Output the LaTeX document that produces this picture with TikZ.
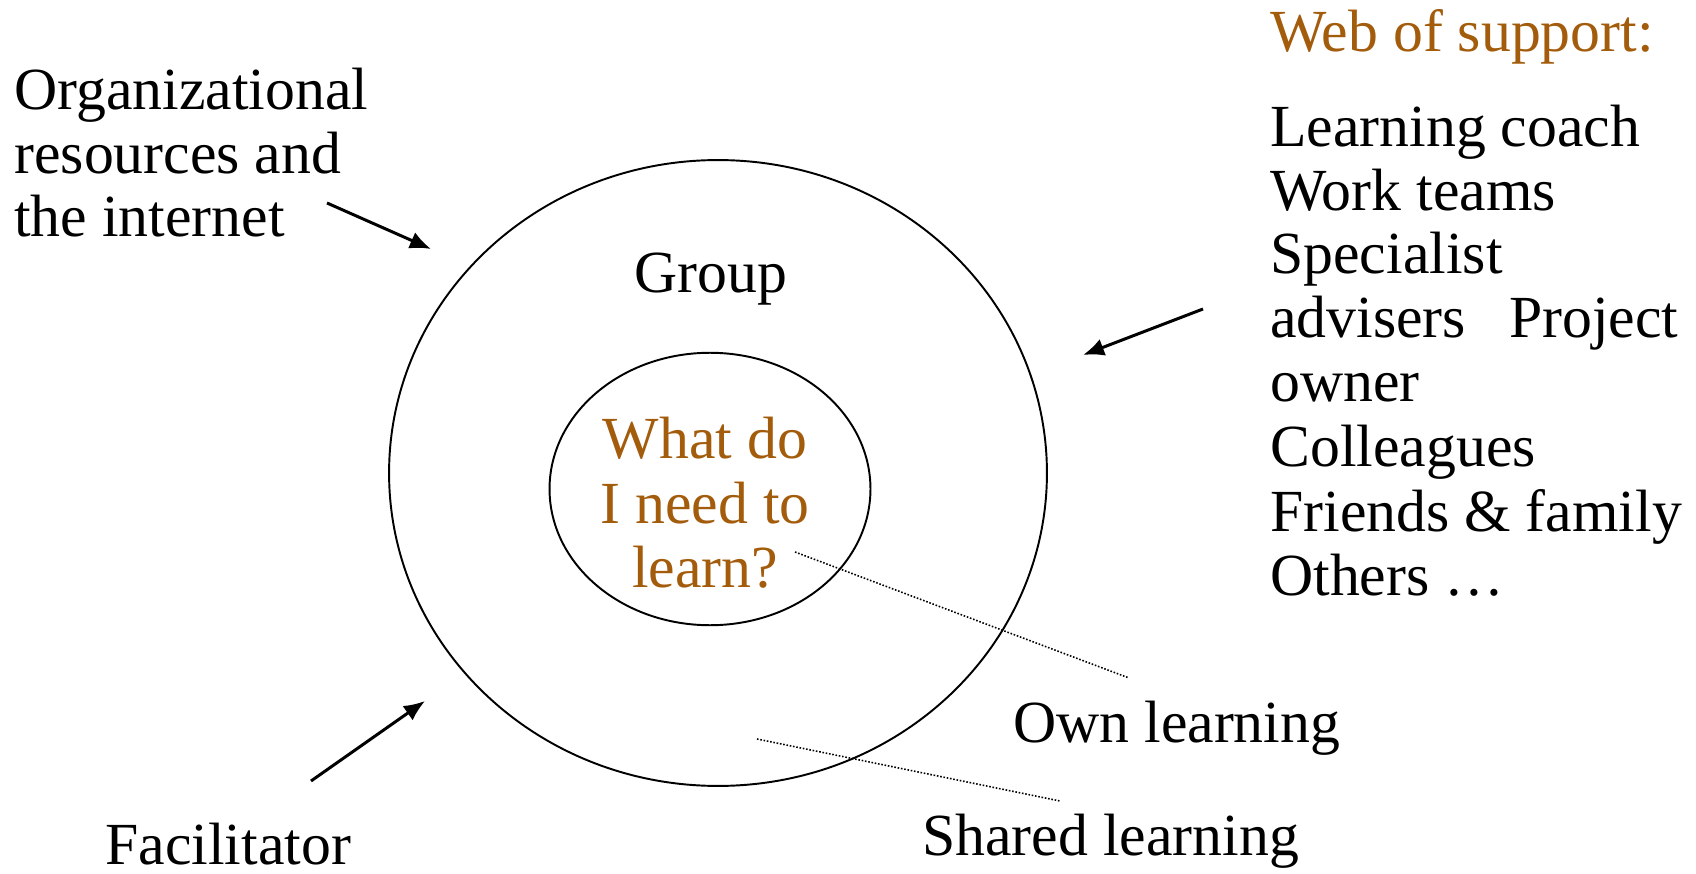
\documentclass[tikz,border=0pt]{standalone}
\usepackage{fontspec}
\setmainfont{Liberation Serif}
\usetikzlibrary{shapes.geometric}
\usetikzlibrary{arrows.meta}
\definecolor{webbrown}{RGB}{163,92,12}

\begin{document}
\begin{tikzpicture}[x=0.02cm, y=-0.02cm]
  \tikzstyle{ring}=[ellipse, draw = black, line width = 1.1pt, inner sep = 0pt]
  \tikzstyle{label}=[anchor = base west, inner sep = 0pt, font = \fontsize{34}{37}\selectfont]
  \tikzstyle{connect}=[-{Latex[length = 12pt, width = 10pt]}, line width = 1.7pt]
  \tikzstyle{pointer}=[densely dotted, line width = 0.9pt]

  \useasboundingbox (0, 0) rectangle (1696, 874);

  % the two circles
  \node[ring, minimum width = 13.16cm, minimum height = 12.52cm] (group) at (718, 473) {};
  \node[ring, minimum width = 6.42cm, minimum height = 5.45cm] (self) at (710, 489) {};

  \node[label, anchor = base] (grouplabel) at (711, 293) {Group};
  \foreach \y/\txt [count=\i] in {459/What do, 523/I need to, 587/learn?}
    \node[label, anchor = base, text = webbrown] (q\i) at (705, \y) {\txt};

  % left side
  \foreach \y/\txt [count=\i] in {110/Organizational, 174/resources and, 237/the internet}
    \node[label] (org\i) at (14, \y) {\txt};
  \node[label] (facilitator) at (105, 864) {Facilitator};

  % web of support
  \node[label, text = webbrown] (web) at (1270, 52) {Web of support:};
  \foreach \y/\txt [count=\i] in
    { 147/Learning coach
    , 211/Work teams
    , 274/Specialist
    , 338/\makebox[8.16cm][s]{advisers\hfill Project}
    , 402/owner
    , 466/Colleagues
    , 531/Friends \& family
    , 595/Others \dots
    }
    \node[label] (w\i) at (1270, \y) {\txt};

  % bottom labels
  \node[label] (own) at (1013, 742) {Own learning};
  \node[label] (shared) at (922, 855) {Shared learning};

  % arrows
  \coordinate (orgtail) at (327, 203);
  \coordinate (orgtip) at (431, 249);
  \coordinate (webtail) at (1203, 309);
  \coordinate (webtip) at (1083, 355);
  \coordinate (factail) at (311, 781);
  \coordinate (factip) at (425, 701);
  \draw[connect] (orgtail) -- (orgtip);
  \draw[connect] (webtail) -- (webtip);
  \draw[connect] (factail) -- (factip);

  % dotted pointers
  \coordinate (ownstart) at (795, 552);
  \coordinate (ownend) at (1129, 678);
  \coordinate (sharedstart) at (757, 739);
  \coordinate (sharedend) at (1060, 801);
  \draw[pointer] (ownstart) -- (ownend);
  \draw[pointer] (sharedstart) -- (sharedend);
\end{tikzpicture}
\end{document}
